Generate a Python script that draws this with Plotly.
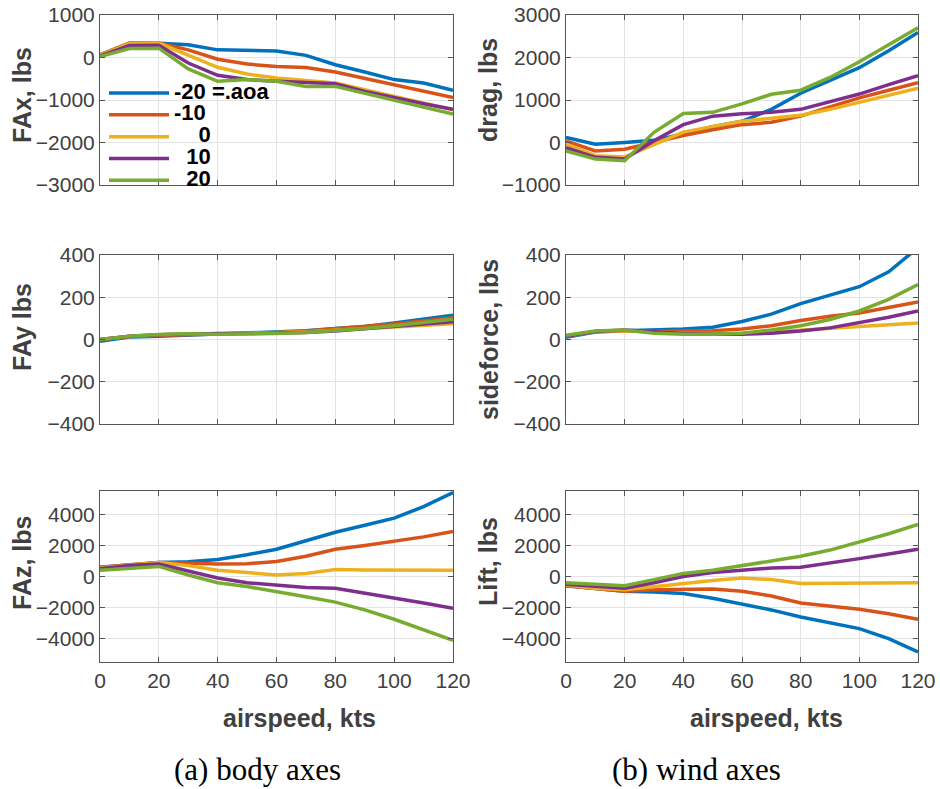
import plotly.graph_objects as go
from plotly.subplots import make_subplots

airspeed = [0, 10, 20, 30, 40, 50, 60, 70, 80, 90, 100, 110, 120]
aoa_labels = ["-20 =.aoa", "-10", "\u00a0\u00a0\u00a0\u00a00", "\u00a0\u00a010", "\u00a0\u00a020"]
colors = ["#0072BD", "#D95319", "#EDB120", "#7E2F8E", "#77AC30"]

fax = [
    [60, 335, 335, 300, 180, 165, 155, 50, -170, -340, -520, -600, -770],
    [60, 340, 340, 180, -40, -155, -210, -235, -340, -490, -640, -800, -940],
    [50, 330, 340, 60, -230, -390, -480, -540, -600, -760, -910, -1070, -1230],
    [30, 280, 290, -130, -420, -520, -560, -600, -620, -800, -950, -1090, -1220],
    [20, 210, 220, -270, -560, -520, -560, -680, -680, -840, -990, -1150, -1330],
]
drag = [
    [120, -40, 0, 50, 200, 370, 500, 780, 1160, 1470, 1760, 2160, 2590],
    [40, -200, -160, 0, 165, 300, 420, 475, 620, 840, 1050, 1230, 1410],
    [-40, -310, -340, -40, 245, 380, 500, 570, 640, 780, 940, 1100, 1280],
    [-120, -350, -390, 40, 420, 620, 675, 710, 780, 950, 1140, 1360, 1570],
    [-200, -390, -430, 240, 680, 710, 910, 1135, 1230, 1530, 1900, 2310, 2700],
]
fay = [
    [-8, 12, 15, 20, 25, 28, 33, 42, 52, 62, 78, 95, 115],
    [0, 14, 20, 23, 26, 28, 32, 40, 50, 60, 74, 88, 103],
    [0, 14, 22, 25, 27, 28, 30, 36, 44, 52, 62, 70, 75],
    [0, 15, 23, 27, 28, 28, 30, 33, 40, 50, 60, 70, 84],
    [0, 16, 24, 27, 25, 26, 28, 33, 42, 52, 65, 80, 96],
]
sideforce = [
    [10, 35, 42, 45, 50, 58, 85, 120, 170, 210, 250, 320, 435],
    [15, 38, 42, 38, 40, 42, 50, 65, 90, 110, 125, 150, 178],
    [15, 38, 42, 35, 30, 28, 28, 35, 45, 55, 62, 70, 78],
    [15, 38, 45, 35, 28, 25, 25, 30, 40, 55, 80, 105, 135],
    [20, 40, 45, 30, 25, 25, 30, 45, 65, 95, 135, 190, 260],
]
faz = [
    [600, 750, 900, 950, 1100, 1400, 1750, 2300, 2850, 3300, 3750, 4500, 5400],
    [600, 750, 900, 850, 800, 820, 970, 1300, 1750, 2000, 2250, 2550, 2900],
    [550, 700, 900, 700, 400, 250, 100, 200, 450, 420, 400, 400, 400],
    [500, 700, 800, 350, -100, -400, -550, -700, -750, -1050, -1350, -1700, -2050],
    [400, 550, 650, 100, -400, -650, -950, -1300, -1650, -2150, -2750, -3400, -4100],
]
lift = [
    [-600, -800, -950, -1000, -1100, -1400, -1750, -2150, -2600, -3000, -3350, -4000, -4850],
    [-600, -800, -950, -850, -800, -800, -950, -1250, -1700, -1900, -2100, -2400, -2750],
    [-550, -750, -850, -650, -400, -250, -100, -200, -450, -450, -400, -400, -400],
    [-500, -650, -750, -400, 0, 250, 400, 550, 600, 850, 1150, 1450, 1750],
    [-400, -500, -600, -200, 200, 400, 700, 1000, 1300, 1700, 2200, 2750, 3350],
]

panels = [
    (fax, 1, 1, "FAx, lbs", [-3000, 1000], [-3000, -2000, -1000, 0, 1000]),
    (drag, 1, 2, "drag, lbs", [-1000, 3000], [-1000, 0, 1000, 2000, 3000]),
    (fay, 2, 1, "FAy lbs", [-400, 400], [-400, -200, 0, 200, 400]),
    (sideforce, 2, 2, "sideforce, lbs", [-400, 400], [-400, -200, 0, 200, 400]),
    (faz, 3, 1, "FAz, lbs", [-5500, 5500], [-4000, -2000, 0, 2000, 4000]),
    (lift, 3, 2, "Lift, lbs", [-5500, 5500], [-4000, -2000, 0, 2000, 4000]),
]
xticks = [0, 20, 40, 60, 80, 100, 120]

W, H = 940, 789
fig = make_subplots(rows=3, cols=2)

for data, r, c, title, yr, yt in panels:
    for i, series in enumerate(data):
        fig.add_trace(
            go.Scatter(
                x=airspeed, y=series, mode="lines",
                line=dict(color=colors[i], width=3.5),
                name='<span style="font-size:22px"><b>' + aoa_labels[i] + "</b></span>",
                showlegend=(r == 1 and c == 1),
            ),
            row=r, col=c,
        )

col_dom = {1: [100 / W, 453 / W], 2: [566 / W, 918 / W]}
row_dom = {1: [1 - 185 / H, 1 - 15 / H], 2: [1 - 424 / H, 1 - 255 / H], 3: [1 - 662 / H, 1 - 491 / H]}

tickfont = dict(family="Liberation Sans, Arial, sans-serif", size=21, color="#404040")
axcommon = dict(
    showline=True, linecolor="#555555", linewidth=1, mirror="ticks",
    ticks="inside", ticklen=5, tickcolor="#555555",
    showgrid=True, gridcolor="#e3e3e3", gridwidth=1,
    zeroline=False, tickfont=tickfont, automargin=False,
)

for data, r, c, title, yr, yt in panels:
    fig.update_xaxes(
        domain=col_dom[c], range=[0, 120], tickvals=xticks,
        showticklabels=(r == 3), row=r, col=c, **axcommon,
    )
    fig.update_yaxes(
        domain=row_dom[r], range=yr, tickvals=yt, row=r, col=c, **axcommon,
    )

titlefont = dict(family="Liberation Sans, Arial, sans-serif", size=25, color="#404040")
ann = []
ytitle_pos = [
    ("FAx, lbs", 22, 95), ("drag, lbs", 488, 90),
    ("FAy lbs", 22, 327), ("sideforce, lbs", 489, 340),
    ("FAz, lbs", 22, 563), ("Lift, lbs", 488, 562),
]
for txt, px, py in ytitle_pos:
    ann.append(dict(text="<b>" + txt + "</b>", x=px / W, y=1 - py / H, xref="paper", yref="paper",
                    xanchor="center", yanchor="middle", textangle=-90, showarrow=False, font=titlefont))
for px in (299, 766):
    ann.append(dict(text="<b>airspeed, kts</b>", x=px / W, y=1 - 718 / H, xref="paper", yref="paper",
                    xanchor="center", yanchor="middle", showarrow=False, font=titlefont))
capfont = dict(family="Liberation Serif, Times New Roman, serif", size=31, color="#000000")
for txt, px in (("(a) body axes", 257), ("(b) wind axes", 696)):
    ann.append(dict(text=txt, x=px / W, y=1 - 769 / H, xref="paper", yref="paper",
                    xanchor="center", yanchor="middle", showarrow=False, font=capfont))

fig.update_layout(
    width=W, height=H, margin=dict(l=0, r=0, t=0, b=0, pad=0, autoexpand=False),
    paper_bgcolor="white", plot_bgcolor="white",
    annotations=ann,
    legend=dict(
        x=104 / W, y=1 - 77 / H, xanchor="left", yanchor="top",
        bgcolor="rgba(255,255,255,0)", borderwidth=0,
        font=dict(family="Liberation Sans, Arial, sans-serif", size=14.5, color="#000000"),
        itemwidth=60, tracegroupgap=0,
    ),
)

fig.write_html("out.html", config={"displayModeBar": False})
